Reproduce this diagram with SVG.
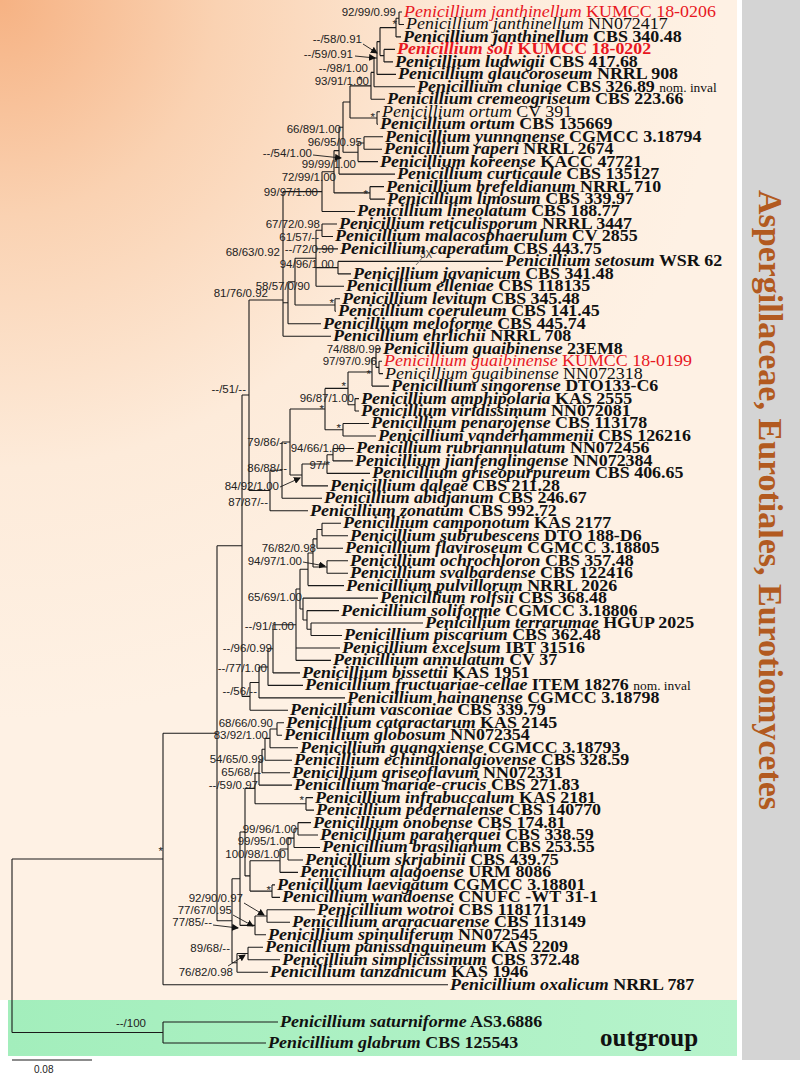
<svg xmlns="http://www.w3.org/2000/svg" width="800" height="1079" viewBox="0 0 800 1079">
<style>
.tx{font-family:"Liberation Serif","Times New Roman",serif;font-size:16px;font-weight:bold;fill:#111;transform-box:fill-box;transform-origin:0 0;transform:scaleX(1.12)}
.sp{font-style:italic}
.nw{font-weight:normal}
.red{fill:#E8171F}
.ni{font-weight:normal;font-size:12px}
.sl{font-family:"Liberation Sans",Arial,sans-serif;font-size:11.5px;fill:#222;text-anchor:end}
.br{fill:none;stroke:#1a1a1a;stroke-width:1.1}
.ar{fill:none;stroke:#1a1a1a;stroke-width:0.9;marker-end:url(#ah)}
</style>
<defs>
<radialGradient id="bg" gradientUnits="userSpaceOnUse" cx="0" cy="0" r="720">
<stop offset="0" stop-color="#F6B283"/>
<stop offset="0.3" stop-color="#FAD2B2"/>
<stop offset="0.65" stop-color="#FDEBDA"/>
<stop offset="1" stop-color="#FEF1E4"/>
</radialGradient>
<linearGradient id="gr" x1="0" y1="0" x2="1" y2="0">
<stop offset="0" stop-color="#A3EEBC"/>
<stop offset="1" stop-color="#B6F3CB"/>
</linearGradient>
<marker id="ah" markerWidth="7" markerHeight="7" refX="6" refY="3.5" orient="auto" markerUnits="userSpaceOnUse">
<path d="M0,0 L7,3.5 L0,7 z" fill="#111"/>
</marker>
</defs>
<rect width="800" height="1079" fill="#fff"/>
<rect x="0" y="0" width="737" height="1000" fill="url(#bg)"/>
<rect x="8" y="1000" width="729" height="56" fill="url(#gr)"/>
<rect x="742" y="0" width="58" height="1060" fill="#D4D4D4"/>
<text transform="translate(759,500) rotate(90)" text-anchor="middle" font-family="Liberation Serif,Times New Roman,serif" font-weight="bold" font-size="34" fill="#B25A20">Aspergillaceae, Eurotiales, Eurotiomycetes</text>
<text x="600" y="1046" font-family="Liberation Serif,Times New Roman,serif" font-weight="bold" font-size="25" fill="#111">outgroup</text>
<g id="scale"><path d="M12,1060H92" class="br"/><text x="34" y="1073" font-family="Liberation Sans,Arial,sans-serif" font-size="10" fill="#222">0.08</text></g>

<g id="connectors">
<path class="br" d="
M399,12V24.5M399,12H402M399,24.5H404
M396,18.2V36.9M396,18.2H399M396,36.9H401
M384,49.4V61.9M384,49.4H395M384,61.9H393
M380,27.6V55.6M380,27.6H396M380,55.6H384
M377,41.6V74.4M377,41.6H380M377,74.4H396
M374,58V86.8M374,58H377M374,86.8H415
M371,72.4V99.3M371,72.4H374M371,99.3H385
M377,111.8V124.2M377,111.8H380M377,124.2H378
M350,85.9V118M350,85.9H371M350,118H377
M364,136.7V149.2M364,136.7H383M364,149.2H382
M358,143V161.6M358,143H364M358,161.6H378
M343,102V152.3M343,102H350M343,152.3H358
M339,127.2V174.1M339,127.2H343M339,174.1H395
M370,186.6V199.1M370,186.6H384M370,199.1H385
M334,150.6V192.9M334,150.6H339M334,192.9H370
M322,171.8V211.5M322,171.8H334M322,211.5H355
M322,224V236.5M322,224H337M322,236.5H333
M338,261.4V273.9M338,261.4H503M338,273.9H351
M316,230.2V286.3M316,230.2H322M316,248.9H338M316,267.6H338M316,286.3H344
M335,298.8V311.3M335,298.8H340M335,311.3H336
M295,258.3V305M295,258.3H316M295,305H335
M288,281.7V323.8M288,281.7H295M288,323.8H321
M283,191.6V336.2M283,191.6H322M283,302.7H288M283,336.2H331
M379,361.2V373.6M379,361.2H382M379,373.6H383
M376,348.7V367.4M376,348.7H381M376,367.4H379
M372,358V386.1M372,358H376M372,386.1H389
M355,398.6V411M355,398.6H359M355,411H359
M348,372V404.8M348,372H372M348,404.8H355
M343,423.5V436M343,423.5H369M343,436H376
M325,388.4V429.7M325,388.4H348M325,429.7H343
M333,448.5V460.9M333,448.5H354M333,460.9H353
M327,454.7V473.4M327,454.7H333M327,473.4H370
M302,464V485.9M302,464H327M302,485.9H328
M290,409V475M290,409H325M290,475H302
M282,442V498.3M282,442H290M282,498.3H322
M270,470.2V510.8M270,470.2H282M270,510.8H308
M249,300V490.5M249,300H283M249,490.5H270
M322,523.3V535.7M322,523.3H341M322,535.7H348
M317,529.5V548.2M317,529.5H322M317,548.2H343
M327,560.7V573.2M327,560.7H348M327,573.2H348
M313,538.9V567M313,538.9H317M313,567H327
M308,553V585.6M308,553H313M308,585.6H344
M311,623V635.5M311,623H423M311,635.5H342
M307,610.6V629.3M307,610.6H339M307,629.3H311
M303,598.1V620M303,598.1H378M303,620H307
M300,569.3V609M300,569.3H308M300,609H303
M296,589V660.4M296,589H300M296,648H340M296,660.4H331
M273,624.7V672.9M273,624.7H296M273,672.9H300
M268,648.8V685.4M268,648.8H273M268,685.4H303
M259,667V697.9M259,667H268M259,697.9H345
M250,682.5V710.3M250,682.5H259M250,710.3H288
M242,395V696.4M242,395H249M242,696.4H250
M277,722.8V735.3M277,722.8H284M277,735.3H282
M270,729V747.7M270,729H277M270,747.7H298
M265,738.4V760.2M265,738.4H270M265,760.2H292
M262,749.3V772.7M262,749.3H265M262,772.7H290
M259,761V785.1M259,761H262M259,785.1H292
M306,797.6V810.1M306,797.6H313M306,810.1H314
M255,773V803.8M255,773H259M255,803.8H306
M298,822.6V835M298,822.6H311M298,835H318
M294,828.8V847.5M294,828.8H298M294,847.5H320
M288,838.1V860M288,838.1H294M288,860H303
M280,849V872.4M280,849H288M280,872.4H298
M272,884.9V897.4M272,884.9H275M272,897.4H280
M250,860.7V891.1M250,860.7H280M250,891.1H272
M245,788.4V875.9M245,788.4H255M245,875.9H250
M267,909.8V922.3M267,909.8H315M267,922.3H290
M255,916V934.8M255,916H267M255,934.8H266
M240,832V925.4M240,832H245M240,925.4H255
M248,947.3V959.7M248,947.3H263M248,959.7H280
M237,953.5V972.2M237,953.5H248M237,972.2H268
M232,878.7V962.8M232,878.7H240M232,962.8H237
M217,545.7V920.8M217,545.7H242M217,920.8H232
M163,733.3V984.7M163,733.3H217M163,984.7H448
M163,1022V1043M163,1022H278M163,1043H266
M12,859V1032.5M12,859H163M12,1032.5H163"/>
<path d="M416,265L423,257" stroke="#777" stroke-width="1" fill="none"/>
<path class="ar" d="M363,44L377,53"/>
<path class="ar" d="M355,56L375,58"/>
<path class="ar" d="M313,155L341,158"/>
<path class="ar" d="M280,487L300,478"/>
<path class="ar" d="M303,562L325,566"/>
<path class="ar" d="M244,903L264,915"/>
<path class="ar" d="M233,915L253,926"/>
<path class="ar" d="M213,925L238,928"/>
<path class="ar" d="M228,966L245,955"/>
</g>

<g id="support">
<text class="sl" x="396" y="16">92/99/0.99</text>
<text class="sl" x="397" y="28">*</text>
<text class="sl" x="362" y="43">--/58/0.91</text>
<text class="sl" x="353" y="58">--/59/0.91</text>
<text class="sl" x="368" y="72">--/98/1.00</text>
<text class="sl" x="369" y="85">93/91/1.00</text>
<text class="sl" x="362" y="84">*</text>
<text class="sl" x="375" y="121">*</text>
<text class="sl" x="341" y="133">66/89/1.00</text>
<text class="sl" x="362" y="146">96/95/0.95</text>
<text class="sl" x="312" y="157">--/54/1.00</text>
<text class="sl" x="356" y="168">99/99/1.00</text>
<text class="sl" x="336" y="181">72/99/1.00</text>
<text class="sl" x="368" y="198">*</text>
<text class="sl" x="318" y="196">99/97/1.00</text>
<text class="sl" x="320" y="228">67/72/0.98</text>
<text class="sl" x="319" y="241">61/57/--</text>
<text class="sl" x="280" y="256">68/63/0.92</text>
<text class="sl" x="334" y="253">--/72/0.90</text>
<text class="sl" x="334" y="268">94/96/1.00</text>
<text x="420" y="258" font-family="Liberation Sans,Arial,sans-serif" font-size="10" fill="#333">3X</text>
<text class="sl" x="310" y="290">58/57/0/90</text>
<text class="sl" x="268" y="297">81/76/0.92</text>
<text class="sl" x="334" y="307">*</text>
<text class="sl" x="381" y="353">74/88/0.99</text>
<text class="sl" x="377" y="365">97/97/0.96</text>
<text class="sl" x="371" y="378">*</text>
<text class="sl" x="346" y="390">*</text>
<text class="sl" x="354" y="402">96/87/1.00</text>
<text class="sl" x="324" y="413">*</text>
<text class="sl" x="341" y="432">*</text>
<text class="sl" x="287" y="446">79/86/--</text>
<text class="sl" x="345" y="452">94/66/1.00</text>
<text class="sl" x="330" y="469">97/*</text>
<text class="sl" x="287" y="472">86/88/--</text>
<text class="sl" x="279" y="490">84/92/1.00</text>
<text class="sl" x="268" y="506">87/87/--</text>
<text class="sl" x="246" y="393">--/51/--</text>
<text class="sl" x="316" y="552">76/82/0.98</text>
<text class="sl" x="302" y="565">94/97/1.00</text>
<text class="sl" x="302" y="601">65/69/1.00</text>
<text class="sl" x="294" y="630">--/91/1.00</text>
<text class="sl" x="272" y="652">--/96/0.99</text>
<text class="sl" x="267" y="672">--/77/1.00</text>
<text class="sl" x="257" y="695">--/56/--</text>
<text class="sl" x="273" y="727">68/66/0.90</text>
<text class="sl" x="268" y="739">83/92/1.00</text>
<text class="sl" x="264" y="763">54/65/0.99</text>
<text class="sl" x="261" y="776">65/68/--</text>
<text class="sl" x="258" y="789">--/59/0.97</text>
<text class="sl" x="304" y="804">*</text>
<text class="sl" x="297" y="833">99/96/1.00</text>
<text class="sl" x="292" y="845">99/95/1.00</text>
<text class="sl" x="286" y="858">100/98/1.00</text>
<text class="sl" x="271" y="894">*</text>
<text class="sl" x="243" y="902">92/90/0.97</text>
<text class="sl" x="232" y="914">77/67/0.95</text>
<text class="sl" x="212" y="926">77/85/--</text>
<text class="sl" x="230" y="952">89/68/--</text>
<text class="sl" x="233" y="976">76/82/0.98</text>
<text class="sl" x="163" y="855">*</text>
<text class="sl" x="146" y="1027">--/100</text>
</g>

<g id="t1"><text class="tx nw red" x="404" y="17"><tspan class="sp">Penicillium janthinellum</tspan> KUMCC 18-0206</text></g>
<g id="t2"><text class="tx nw" x="406" y="29.5"><tspan class="sp">Penicillium janthinellum</tspan> NN072417</text></g>
<g id="t3"><text class="tx" x="403" y="41.9"><tspan class="sp">Penicillium janthinellum</tspan> CBS 340.48</text></g>
<g id="t4"><text class="tx red" x="397" y="54.4"><tspan class="sp">Penicillium soli</tspan> KUMCC 18-0202</text></g>
<g id="t5"><text class="tx" x="395" y="66.9"><tspan class="sp">Penicillium ludwigii</tspan> CBS 417.68</text></g>
<g id="t6"><text class="tx" x="398" y="79.4"><tspan class="sp">Penicillium glaucoroseum</tspan> NRRL 908</text></g>
<g id="t7"><text class="tx" x="417" y="91.8"><tspan class="sp">Penicillium cluniae</tspan> CBS 326.89 <tspan class="ni">nom. inval</tspan></text></g>
<g id="t8"><text class="tx" x="387" y="104.3"><tspan class="sp">Penicillium cremeogriseum</tspan> CBS 223.66</text></g>
<g id="t9"><text class="tx nw" x="382" y="116.8"><tspan class="sp">Penicillium ortum</tspan> CV 391</text></g>
<g id="t10"><text class="tx" x="380" y="129.2"><tspan class="sp">Penicillium ortum</tspan> CBS 135669</text></g>
<g id="t11"><text class="tx" x="385" y="141.7"><tspan class="sp">Penicillium yunnanense</tspan> CGMCC 3.18794</text></g>
<g id="t12"><text class="tx" x="384" y="154.2"><tspan class="sp">Penicillium raperi</tspan> NRRL 2674</text></g>
<g id="t13"><text class="tx" x="380" y="166.6"><tspan class="sp">Penicillium koreense</tspan> KACC 47721</text></g>
<g id="t14"><text class="tx" x="397" y="179.1"><tspan class="sp">Penicillium curticaule</tspan> CBS 135127</text></g>
<g id="t15"><text class="tx" x="386" y="191.6"><tspan class="sp">Penicillium brefeldianum</tspan> NRRL 710</text></g>
<g id="t16"><text class="tx" x="387" y="204.1"><tspan class="sp">Penicillium limosum</tspan> CBS 339.97</text></g>
<g id="t17"><text class="tx" x="357" y="216.5"><tspan class="sp">Penicillium lineolatum</tspan> CBS 188.77</text></g>
<g id="t18"><text class="tx" x="339" y="229"><tspan class="sp">Penicillium reticulisporum</tspan> NRRL 3447</text></g>
<g id="t19"><text class="tx" x="335" y="241.5"><tspan class="sp">Penicillium malacosphaerulum</tspan> CV 2855</text></g>
<g id="t20"><text class="tx" x="340" y="253.9"><tspan class="sp">Penicillium caperatum</tspan> CBS 443.75</text></g>
<g id="t21"><text class="tx" x="505" y="266.4"><tspan class="sp">Penicillium setosum</tspan> WSR 62</text></g>
<g id="t22"><text class="tx" x="353" y="278.9"><tspan class="sp">Penicillium javanicum</tspan> CBS 341.48</text></g>
<g id="t23"><text class="tx" x="346" y="291.3"><tspan class="sp">Penicillium elleniae</tspan> CBS 118135</text></g>
<g id="t24"><text class="tx" x="342" y="303.8"><tspan class="sp">Penicillium levitum</tspan> CBS 345.48</text></g>
<g id="t25"><text class="tx" x="338" y="316.3"><tspan class="sp">Penicillium coeruleum</tspan> CBS 141.45</text></g>
<g id="t26"><text class="tx" x="323" y="328.8"><tspan class="sp">Penicillium meloforme</tspan> CBS 445.74</text></g>
<g id="t27"><text class="tx" x="333" y="341.2"><tspan class="sp">Penicillium ehrlichii</tspan> NRRL 708</text></g>
<g id="t28"><text class="tx" x="383" y="353.7"><tspan class="sp">Penicillium guaibinense</tspan> 23EM8</text></g>
<g id="t29"><text class="tx nw red" x="384" y="366.2"><tspan class="sp">Penicillium guaibinense</tspan> KUMCC 18-0199</text></g>
<g id="t30"><text class="tx nw" x="385" y="378.6"><tspan class="sp">Penicillium guaibinense</tspan> NN072318</text></g>
<g id="t31"><text class="tx" x="391" y="391.1"><tspan class="sp">Penicillium singorense</tspan> DTO133-C6</text></g>
<g id="t32"><text class="tx" x="361" y="403.6"><tspan class="sp">Penicillium amphipolaria</tspan> KAS 2555</text></g>
<g id="t33"><text class="tx" x="361" y="416"><tspan class="sp">Penicillium viridissimum</tspan> NN072081</text></g>
<g id="t34"><text class="tx" x="371" y="428.5"><tspan class="sp">Penicillium penarojense</tspan> CBS 113178</text></g>
<g id="t35"><text class="tx" x="378" y="441"><tspan class="sp">Penicillium vanderhammenii</tspan> CBS 126216</text></g>
<g id="t36"><text class="tx" x="356" y="453.5"><tspan class="sp">Penicillium rubriannulatum</tspan> NN072456</text></g>
<g id="t37"><text class="tx" x="355" y="465.9"><tspan class="sp">Penicillium jianfenglingense</tspan> NN072384</text></g>
<g id="t38"><text class="tx" x="372" y="478.4"><tspan class="sp">Penicillium griseopurpureum</tspan> CBS 406.65</text></g>
<g id="t39"><text class="tx" x="330" y="490.9"><tspan class="sp">Penicillium daleae</tspan> CBS 211.28</text></g>
<g id="t40"><text class="tx" x="324" y="503.3"><tspan class="sp">Penicillium abidjanum</tspan> CBS 246.67</text></g>
<g id="t41"><text class="tx" x="310" y="515.8"><tspan class="sp">Penicillium zonatum</tspan> CBS 992.72</text></g>
<g id="t42"><text class="tx" x="343" y="528.3"><tspan class="sp">Penicillium camponotum</tspan> KAS 2177</text></g>
<g id="t43"><text class="tx" x="350" y="540.7"><tspan class="sp">Penicillium subrubescens</tspan> DTO 188-D6</text></g>
<g id="t44"><text class="tx" x="345" y="553.2"><tspan class="sp">Penicillium flaviroseum</tspan> CGMCC 3.18805</text></g>
<g id="t45"><text class="tx" x="350" y="565.7"><tspan class="sp">Penicillium ochrochloron</tspan> CBS 357.48</text></g>
<g id="t46"><text class="tx" x="350" y="578.2"><tspan class="sp">Penicillium svalbardense</tspan> CBS 122416</text></g>
<g id="t47"><text class="tx" x="346" y="590.6"><tspan class="sp">Penicillium pulvillorum</tspan> NRRL 2026</text></g>
<g id="t48"><text class="tx" x="380" y="603.1"><tspan class="sp">Penicillium rolfsii</tspan> CBS 368.48</text></g>
<g id="t49"><text class="tx" x="341" y="615.6"><tspan class="sp">Penicillium soliforme</tspan> CGMCC 3.18806</text></g>
<g id="t50"><text class="tx" x="425" y="628"><tspan class="sp">Penicillium terrarumae</tspan> HGUP 2025</text></g>
<g id="t51"><text class="tx" x="344" y="640.5"><tspan class="sp">Penicillium piscarium</tspan> CBS 362.48</text></g>
<g id="t52"><text class="tx" x="342" y="653"><tspan class="sp">Penicillium excelsum</tspan> IBT 31516</text></g>
<g id="t53"><text class="tx" x="333" y="665.4"><tspan class="sp">Penicillium annulatum</tspan> CV 37</text></g>
<g id="t54"><text class="tx" x="302" y="677.9"><tspan class="sp">Penicillium bissettii</tspan> KAS 1951</text></g>
<g id="t55"><text class="tx" x="305" y="690.4"><tspan class="sp">Penicillium fructuariae-cellae</tspan> ITEM 18276 <tspan class="ni">nom. inval</tspan></text></g>
<g id="t56"><text class="tx" x="347" y="702.9"><tspan class="sp">Penicillium hainanense</tspan> CGMCC 3.18798</text></g>
<g id="t57"><text class="tx" x="290" y="715.3"><tspan class="sp">Penicillium vasconiae</tspan> CBS 339.79</text></g>
<g id="t58"><text class="tx" x="286" y="727.8"><tspan class="sp">Penicillium cataractarum</tspan> KAS 2145</text></g>
<g id="t59"><text class="tx" x="284" y="740.3"><tspan class="sp">Penicillium globosum</tspan> NN072354</text></g>
<g id="t60"><text class="tx" x="300" y="752.7"><tspan class="sp">Penicillium guangxiense</tspan> CGMCC 3.18793</text></g>
<g id="t61"><text class="tx" x="294" y="765.2"><tspan class="sp">Penicillium echinulonalgiovense</tspan> CBS 328.59</text></g>
<g id="t62"><text class="tx" x="292" y="777.7"><tspan class="sp">Penicillium griseoflavum</tspan> NN072331</text></g>
<g id="t63"><text class="tx" x="294" y="790.1"><tspan class="sp">Penicillium mariae-crucis</tspan> CBS 271.83</text></g>
<g id="t64"><text class="tx" x="315" y="802.6"><tspan class="sp">Penicillium infrabuccalum</tspan> KAS 2181</text></g>
<g id="t65"><text class="tx" x="316" y="815.1"><tspan class="sp">Penicillium pedernalense</tspan> CBS 140770</text></g>
<g id="t66"><text class="tx" x="313" y="827.6"><tspan class="sp">Penicillium onobense</tspan> CBS 174.81</text></g>
<g id="t67"><text class="tx" x="320" y="840"><tspan class="sp">Penicillium paraherquei</tspan> CBS 338.59</text></g>
<g id="t68"><text class="tx" x="322" y="852.5"><tspan class="sp">Penicillium brasilianum</tspan> CBS 253.55</text></g>
<g id="t69"><text class="tx" x="305" y="865"><tspan class="sp">Penicillium skrjabinii</tspan> CBS 439.75</text></g>
<g id="t70"><text class="tx" x="300" y="877.4"><tspan class="sp">Penicillium alagoense</tspan> URM 8086</text></g>
<g id="t71"><text class="tx" x="277" y="889.9"><tspan class="sp">Penicillium laevigatum</tspan> CGMCC 3.18801</text></g>
<g id="t72"><text class="tx" x="282" y="902.4"><tspan class="sp">Penicillium wandoense</tspan> CNUFC -WT 31-1</text></g>
<g id="t73"><text class="tx" x="317" y="914.8"><tspan class="sp">Penicillium wotroi</tspan> CBS 118171</text></g>
<g id="t74"><text class="tx" x="292" y="927.3"><tspan class="sp">Penicillium araracuarense</tspan> CBS 113149</text></g>
<g id="t75"><text class="tx" x="268" y="939.8"><tspan class="sp">Penicillium spinuliferum</tspan> NN072545</text></g>
<g id="t76"><text class="tx" x="265" y="952.3"><tspan class="sp">Penicillium panissanguineum</tspan> KAS 2209</text></g>
<g id="t77"><text class="tx" x="282" y="964.7"><tspan class="sp">Penicillium simplicissimum</tspan> CBS 372.48</text></g>
<g id="t78"><text class="tx" x="270" y="977.2"><tspan class="sp">Penicillium tanzanicum</tspan> KAS 1946</text></g>
<g id="t79"><text class="tx" x="450" y="989.7"><tspan class="sp">Penicillium oxalicum</tspan> NRRL 787</text></g>
<g id="t80"><text class="tx" x="280" y="1027"><tspan class="sp">Penicillium saturniforme</tspan> AS3.6886</text></g>
<g id="t81"><text class="tx" x="268" y="1048"><tspan class="sp">Penicillium glabrum</tspan> CBS 125543</text></g>
</svg>
